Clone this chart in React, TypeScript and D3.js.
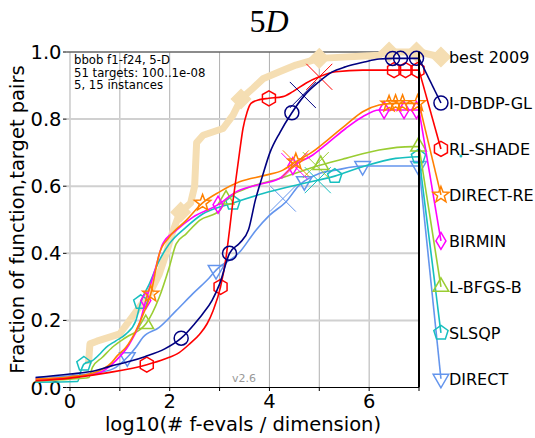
import React from "react";
import * as d3 from "d3";

// ---- data (x = log10(#f-evals/dim), y = fraction) ----
const xTicks = [0, 1, 2, 3, 4, 5, 6, 7];
const xTickLabels = [0, 2, 4, 6];
const yTicks = [0, 0.2, 0.4, 0.6, 0.8, 1.0];

const algNames = ["best 2009", "I-DBDP-GL", "RL-SHADE", "DIRECT-RE", "BIRMIN", "L-BFGS-B", "SLSQP", "DIRECT"];
const labelY = [0.985, 0.848, 0.711, 0.574, 0.437, 0.3, 0.163, 0.026];
const labelX = 7.44;

const best2009 = [[0.37, 0.07], [0.4, 0.13], [0.54, 0.138], [1.0, 0.16], [1.12, 0.185], [1.32, 0.225], [1.59, 0.279], [1.79, 0.338], [1.93, 0.4], [2.05, 0.46], [2.2, 0.52], [2.42, 0.55], [2.5, 0.6], [2.54, 0.73], [2.67, 0.752], [3.07, 0.772], [3.27, 0.812], [3.43, 0.86], [3.67, 0.892], [3.87, 0.92], [4.2, 0.941], [4.53, 0.961], [5.0, 0.981], [6.2, 0.99], [6.3, 1.0], [7.0, 1.0]];
const idbdpgl = [[-0.69, 0.03], [0, 0.04], [0.5, 0.05], [0.8, 0.063], [1.2, 0.078], [1.5, 0.092], [1.9, 0.115], [2.23, 0.147], [2.5, 0.19], [2.66, 0.219], [2.85, 0.26], [3.0, 0.308], [3.2, 0.4], [3.4, 0.43], [3.58, 0.47], [3.72, 0.56], [3.86, 0.63], [4.01, 0.7], [4.21, 0.76], [4.45, 0.819], [4.7, 0.87], [5.0, 0.912], [5.25, 0.94], [5.53, 0.956], [5.9, 0.97], [6.2, 0.979], [6.5, 0.981], [7.0, 0.981]];
const rlshade = [[-0.69, 0.02], [0, 0.028], [0.8, 0.045], [1.54, 0.068], [1.9, 0.085], [2.19, 0.104], [2.4, 0.13], [2.6, 0.159], [2.75, 0.19], [2.87, 0.229], [3.02, 0.3], [3.13, 0.388], [3.2, 0.47], [3.27, 0.557], [3.33, 0.623], [3.4, 0.7], [3.47, 0.772], [3.55, 0.82], [3.63, 0.847], [3.8, 0.858], [3.99, 0.862], [4.27, 0.867], [4.47, 0.882], [4.73, 0.907], [5.0, 0.926], [5.33, 0.941], [5.87, 0.946], [7.0, 0.946]];
const directre = [[-0.69, 0.025], [0, 0.032], [0.5, 0.045], [0.84, 0.075], [0.95, 0.095], [1.12, 0.119], [1.32, 0.169], [1.5, 0.23], [1.62, 0.279], [1.79, 0.398], [1.99, 0.448], [2.33, 0.498], [2.66, 0.55], [3.0, 0.583], [3.4, 0.613], [3.93, 0.633], [4.27, 0.648], [4.53, 0.673], [4.87, 0.703], [5.2, 0.742], [5.53, 0.782], [5.87, 0.822], [6.2, 0.842], [6.5, 0.847], [7.0, 0.847]];
const birmin = [[-0.69, 0.025], [0, 0.03], [0.6, 0.045], [0.92, 0.08], [1.19, 0.129], [1.39, 0.189], [1.52, 0.259], [1.72, 0.358], [1.86, 0.428], [2.13, 0.468], [2.46, 0.507], [2.97, 0.545], [3.33, 0.583], [3.87, 0.608], [4.2, 0.623], [4.47, 0.66], [4.87, 0.693], [5.2, 0.732], [5.53, 0.772], [5.87, 0.807], [6.2, 0.827], [7.0, 0.827]];
const lbfgsb = [[-0.69, 0.02], [0, 0.025], [0.38, 0.03], [0.45, 0.06], [0.65, 0.09], [0.85, 0.12], [1.12, 0.149], [1.52, 0.189], [1.79, 0.269], [1.99, 0.358], [2.13, 0.428], [2.33, 0.458], [2.6, 0.498], [3.0, 0.527], [3.13, 0.56], [3.53, 0.593], [4.2, 0.623], [5.03, 0.663], [5.53, 0.683], [6.2, 0.708], [6.87, 0.718], [7.0, 0.718]];
const slsqp = [[-0.69, 0.016], [0.15, 0.018], [0.22, 0.05], [0.28, 0.07], [0.45, 0.08], [0.6, 0.1], [0.72, 0.119], [0.92, 0.139], [1.12, 0.159], [1.32, 0.199], [1.42, 0.254], [1.59, 0.308], [1.79, 0.378], [1.99, 0.428], [2.33, 0.478], [2.66, 0.517], [3.27, 0.55], [3.87, 0.578], [4.53, 0.603], [5.31, 0.63], [5.87, 0.658], [6.53, 0.683], [7.0, 0.688]];
const direct = [[-0.69, 0.03], [0, 0.035], [0.6, 0.045], [0.92, 0.06], [1.15, 0.09], [1.32, 0.119], [1.46, 0.149], [1.79, 0.179], [2.13, 0.229], [2.46, 0.279], [2.8, 0.328], [2.93, 0.35], [3.4, 0.403], [3.73, 0.469], [4.0, 0.513], [4.33, 0.553], [4.6, 0.603], [4.7, 0.615], [5.0, 0.638], [5.33, 0.648], [5.87, 0.66], [7.0, 0.66]];

// marker x positions along each curve
const best2009Marks = [2.22, 3.43, 5.0, 6.4, 6.95];
const idbdpglMarks = [2.23, 3.2, 4.45, 6.47, 6.63, 6.95];
const rlshadeMarks = [1.54, 3.02, 3.99, 6.5, 6.73, 6.97];
const directreMarks = [1.62, 2.66, 4.53, 6.4, 6.53, 6.67, 6.97];
const birminMarks = [1.52, 2.97, 4.47, 6.3, 6.7, 6.95];
const lbfgsbMarks = [1.52, 3.13, 5.03, 6.99];
const slsqpMarks = [0.28, 1.42, 3.27, 5.31, 6.99];
const directMarks = [1.15, 2.93, 4.7, 5.87, 6.99];

// big thin crosses
const crossPts = [[4.67, 0.872], [5.0, 0.926], [4.53, 0.668], [4.5, 0.66], [4.93, 0.663], [4.97, 0.618], [4.27, 0.563]];
const strayDot = [7.84, 0.69];

const colors = ["#f5deb3", "#000080", "#ff0000", "#ff8000", "#ff00ff", "#9acd32", "#17bfbf", "#6495ed"];

const W = 535, H = 438;
const sx = d3.scaleLinear().domain([-0.07, 7]).range([66.5, 419]);
const sy = d3.scaleLinear().domain([0, 1]).range([387.5, 52]);
const font = "DejaVu Sans, sans-serif";

function poly(n: number, r: number, inner = 0, rot = -Math.PI / 2) {
  const k = inner ? n * 2 : n;
  const pts: string[] = [];
  for (let i = 0; i < k; i++) {
    const a = rot + (i * 2 * Math.PI) / k;
    const rr = inner && i % 2 ? r * inner : r;
    pts.push(`${(rr * Math.cos(a)).toFixed(2)},${(rr * Math.sin(a)).toFixed(2)}`);
  }
  return "M" + pts.join("L") + "Z";
}

const shapes = [
  poly(4, 9.5),
  d3.symbol().type(d3.symbolCircle).size(Math.PI * 49)() as string,
  poly(6, 7.5),
  poly(5, 8.5, 0.42),
  "M0,-8.5L5,0L0,8.5L-5,0Z",
  poly(3, 9),
  poly(5, 7.5),
  poly(3, 9, 0, Math.PI / 2),
];

const allSeries = [best2009, idbdpgl, rlshade, directre, birmin, lbfgsb, slsqp, direct];
const allMarks = [best2009Marks, idbdpglMarks, rlshadeMarks, directreMarks, birminMarks, lbfgsbMarks, slsqpMarks, directMarks];

function yAt(pts: number[][], x: number) {
  const xs = pts.map((p) => p[0]);
  const i = Math.max(1, Math.min(pts.length - 1, d3.bisectLeft(xs, x)));
  const a = pts[i - 1], b = pts[i];
  const t = (x - a[0]) / (b[0] - a[0] || 1);
  return a[1] + t * (b[1] - a[1]);
}

export default function App() {
  const smooth = d3
    .line<number[]>()
    .x((d) => sx(d[0]))
    .y((d) => sy(d[1]))
    .curve(d3.curveMonotoneX);
  const straight = d3
    .line<number[]>()
    .x((d) => sx(d[0]))
    .y((d) => sy(d[1]));
  const order = [0, 7, 6, 5, 4, 3, 2, 1];

  return (
    <svg width={W} height={H} style={{ position: "absolute", left: 0, top: 0, background: "#fff" }}>
      {/* grid */}
      {xTicks.slice(0, 7).map((t) => (
        <line key={"gx" + t} x1={sx(t)} x2={sx(t)} y1={sy(0)} y2={sy(1)} stroke="#b0b0b0" strokeWidth={1} />
      ))}
      {yTicks.slice(1, 5).map((t) => (
        <line key={"gy" + t} x1={sx(-0.07)} x2={sx(7)} y1={sy(t)} y2={sy(t)} stroke="#d0d0d0" strokeWidth={2} />
      ))}
      {/* spines */}
      <line x1={sx(-0.07)} x2={sx(7)} y1={sy(1)} y2={sy(1)} stroke="#666" strokeWidth={1.5} />
      <line x1={sx(-0.07)} x2={sx(7)} y1={sy(0)} y2={sy(0)} stroke="#000" strokeWidth={1} />
      {xTicks.map((t) => (
        <line key={"tx" + t} x1={sx(t)} x2={sx(t)} y1={sy(0)} y2={sy(0) + 3.5} stroke="#000" strokeWidth={1} />
      ))}
      {yTicks.map((t) => (
        <line key={"ty" + t} x1={sx(-0.07) - 3.5} x2={sx(-0.07)} y1={sy(t)} y2={sy(t)} stroke="#000" strokeWidth={1} />
      ))}
      {/* tick labels */}
      {xTickLabels.map((t) => (
        <text key={"lx" + t} x={sx(t)} y={408} textAnchor="middle" fontFamily={font} fontSize={19.5} fill="#000">
          {t}
        </text>
      ))}
      {yTicks.map((t) => (
        <text key={"ly" + t} x={61.5} y={sy(t)} dy="0.36em" textAnchor="end" fontFamily={font} fontSize={19.5} fill="#000">
          {t.toFixed(1)}
        </text>
      ))}
      <text x={243} y={431} textAnchor="middle" fontFamily={font} fontSize={19.5}>
        log10(# f-evals / dimension)
      </text>
      <text transform="translate(24,219.5) rotate(-90)" textAnchor="middle" fontFamily={font} fontSize={19.5}>
        Fraction of function,target pairs
      </text>
      <text x={269} y={32} textAnchor="middle" fontFamily="Liberation Serif, serif" fontSize={32}>
        5<tspan fontStyle="italic">D</tspan>
      </text>
      <text x={74} fontFamily={font} fontSize={11.7} fill="#000">
        <tspan x={74} y={64}>bbob f1-f24, 5-D</tspan>
        <tspan x={74} y={76.5}>51 targets: 100..1e-08</tspan>
        <tspan x={74} y={89}>5, 15 instances</tspan>
      </text>
      <text x={232} y={382} fontFamily={font} fontSize={11} fill="#999">
        v2.6
      </text>

      {/* curves */}
      {order.map((i) => {
        const pts = allSeries[i];
        const last = pts[pts.length - 1];
        const isBest = i === 0;
        const lw = isBest ? 7 : 1.6;
        const gen = isBest ? straight : smooth;
        return (
          <g key={"s" + i}>
            <path d={gen(pts) as string} fill="none" stroke={colors[i]} strokeWidth={lw} strokeLinejoin="round" />
            <line x1={sx(last[0])} y1={sy(last[1])} x2={sx(labelX)} y2={sy(labelY[i])} stroke={colors[i]} strokeWidth={lw} />
            {allMarks[i].map((mx, j) => (
              <path
                key={j}
                d={shapes[i]}
                transform={`translate(${sx(mx)},${sy(yAt(pts, mx))})`}
                fill={isBest ? colors[i] : "none"}
                stroke={colors[i]}
                strokeWidth={1.5}
              />
            ))}
            <path
              d={shapes[i]}
              transform={`translate(${sx(labelX)},${sy(labelY[i])})`}
              fill={isBest ? colors[i] : "none"}
              stroke={colors[i]}
              strokeWidth={1.5}
            />
            {i > 0 && (
              <path
                d="M-13,-13L13,13M-13,13L13,-13"
                transform={`translate(${sx(crossPts[i - 1][0])},${sy(crossPts[i - 1][1])})`}
                stroke={colors[i]}
                strokeWidth={1}
                fill="none"
              />
            )}
          </g>
        );
      })}
      <line x1={sx(7)} x2={sx(7)} y1={sy(1)} y2={sy(0)} stroke="#000" strokeWidth={2} />
      <circle cx={sx(strayDot[0])} cy={sy(strayDot[1])} r={1.5} fill="#17bfbf" />
      {algNames.map((n, i) => (
        <text key={n} x={sx(labelX) + 8} y={sy(labelY[i])} dy="0.36em" fontFamily={font} fontSize={16} fill="#000">
          {n}
        </text>
      ))}
    </svg>
  );
}
